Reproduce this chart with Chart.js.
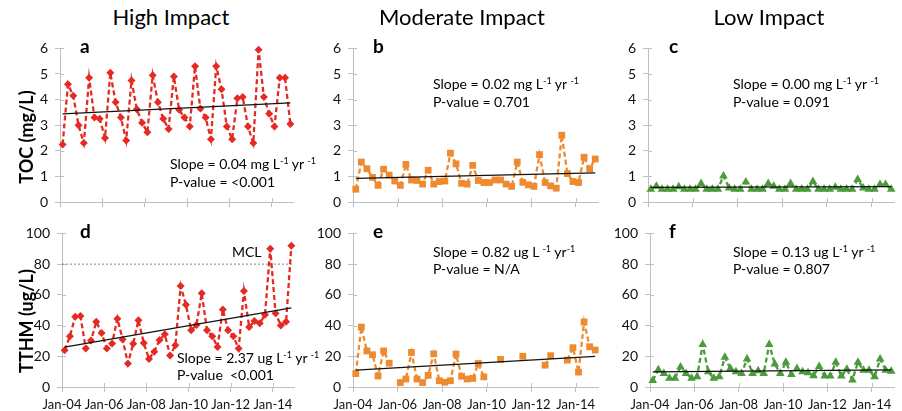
<!DOCTYPE html>
<html>
<head>
<meta charset="utf-8">
<script src="https://cdn.jsdelivr.net/npm/chart.js@4.4.1/dist/chart.umd.min.js"></script>
<style>
  body { margin: 0; background: #fff; width: 902px; height: 411px; overflow: hidden; position: relative; font-family: Lato, sans-serif; color: #000; }
  canvas { position: absolute; }
  .t { position: absolute; white-space: pre; }
  .title { font-size: 22px; line-height: 26px; transform: translateX(-50%); }
  .ytitle { font-size: 18px; font-weight: bold; transform: translate(-50%, -50%) rotate(-90deg); }
  .letter { font-size: 19px; line-height: 22px; font-weight: bold; }
  .stat { font-size: 14px; line-height: 17px; }
  sup { font-size: 9px; vertical-align: 5px; line-height: 0; }
</style>
</head>
<body>
<canvas id="pa"></canvas><canvas id="pb"></canvas><canvas id="pc"></canvas>
<canvas id="pd"></canvas><canvas id="pe"></canvas><canvas id="pf"></canvas>

<div class="t title" style="left:171px;top:4px">High Impact</div>
<div class="t title" style="left:462px;top:4px">Moderate Impact</div>
<div class="t title" style="left:769px;top:4px">Low Impact</div>

<div class="t ytitle" style="left:26px;top:137px">TOC (mg/L)</div>
<div class="t ytitle" style="left:26px;top:321px">TTHM (ug/L)</div>

<div class="t letter" style="left:80px;top:35px">a</div>
<div class="t letter" style="left:373px;top:35px">b</div>
<div class="t letter" style="left:669px;top:35px">c</div>
<div class="t letter" style="left:80px;top:220px">d</div>
<div class="t letter" style="left:373px;top:220px">e</div>
<div class="t letter" style="left:669px;top:220px">f</div>

<div class="t stat" style="left:170px;top:155px">Slope = 0.04 mg L<sup>-1</sup> yr <sup>-1</sup></div>
<div class="t stat" style="left:170px;top:173px">P-value = &lt;0.001</div>
<div class="t stat" style="left:433px;top:75px">Slope = 0.02 mg L<sup>-1</sup> yr <sup>-1</sup></div>
<div class="t stat" style="left:433px;top:93px">P-value = 0.701</div>
<div class="t stat" style="left:733px;top:75px">Slope = 0.00 mg L<sup>-1</sup> yr <sup>-1</sup></div>
<div class="t stat" style="left:733px;top:93px">P-value = 0.091</div>
<div class="t stat" style="left:177px;top:349px">Slope = 2.37 ug L<sup>-1</sup> yr <sup>-1</sup></div>
<div class="t stat" style="left:177px;top:366px">P-value  &lt;0.001</div>
<div class="t stat" style="left:433px;top:243px">Slope = 0.82 ug L <sup>-1</sup> yr<sup>-1</sup></div>
<div class="t stat" style="left:433px;top:260px">P-value = N/A</div>
<div class="t stat" style="left:733px;top:243px">Slope = 0.13 ug L<sup>-1</sup> yr <sup>-1</sup></div>
<div class="t stat" style="left:733px;top:260px">P-value = 0.807</div>
<div class="t stat" style="left:232px;top:243px">MCL</div>

<script>
// quarterly sampling dates
const sampleDates = [
  'Feb-04', 'May-04', 'Aug-04', 'Nov-04', 'Feb-05', 'May-05', 'Aug-05', 'Nov-05',
  'Feb-06', 'May-06', 'Aug-06', 'Nov-06', 'Feb-07', 'May-07', 'Aug-07', 'Nov-07',
  'Feb-08', 'May-08', 'Aug-08', 'Nov-08', 'Feb-09', 'May-09', 'Aug-09', 'Nov-09',
  'Feb-10', 'May-10', 'Aug-10', 'Nov-10', 'Feb-11', 'May-11', 'Aug-11', 'Nov-11',
  'Feb-12', 'May-12', 'Aug-12', 'Nov-12', 'Feb-13', 'May-13', 'Aug-13', 'Nov-13',
  'Feb-14', 'May-14', 'Aug-14', 'Nov-14'
];
const xTickYears = [0, 2, 4, 6, 8, 10];
const xTickLabels = ['Jan-04', 'Jan-06', 'Jan-08', 'Jan-10', 'Jan-12', 'Jan-14'];

// TOC (mg/L)
const tocHigh = [2.25, 4.6, 4.15, 3.0, 2.3, 4.85, 3.3, 3.25, 2.5, 5.05, 3.9, 3.3, 2.4, 4.75, 3.62, 3.1,
  2.72, 4.95, 3.9, 3.25, 2.85, 4.9, 3.6, 3.3, 2.95, 5.3, 3.65, 3.3, 2.45, 5.3, 4.4, 2.95,
  2.45, 4.05, 4.1, 2.95, 2.3, 5.95, 4.1, 3.45, 2.95, 4.85, 4.85, 3.05];
const tocModerate = [0.5, 1.56, 1.3, 0.96, 0.65, 1.28, 1.05, 0.82, 0.65, 1.47, 0.86, 0.84, 0.7, 1.24, 0.7, 0.8,
  0.82, 1.91, 1.49, 0.73, 0.7, 1.43, 0.84, 0.76, 0.76, 0.86, 0.86, 0.7, 0.61, 1.56, 0.77, 0.67,
  0.61, 1.85, 0.76, 0.63, 0.54, 2.61, 1.11, 0.8, 0.76, 1.75, 1.3, 1.68];
const tocLow = [0.5, 0.62, 0.5, 0.5, 0.5, 0.6, 0.5, 0.5, 0.5, 0.72, 0.5, 0.5, 0.5, 1.02, 0.55, 0.5,
  0.5, 0.78, 0.5, 0.5, 0.5, 0.72, 0.62, 0.5, 0.5, 0.72, 0.5, 0.5, 0.5, 0.8, 0.5, 0.5,
  0.5, 0.58, 0.5, 0.5, 0.5, 0.88, 0.55, 0.5, 0.5, 0.68, 0.68, 0.5];

// TTHM (ug/L)
const tthmHigh = [24, 33, 45.8, 46.3, 25, 30.2, 42.5, 35.2, 25, 28.3, 44.5, 31, 15.3, 28.2, 43.5, 28.7,
  18.2, 23, 30.6, 34.3, 20.5, 27.2, 65.8, 53.5, 37, 40.3, 61, 37, 33, 26, 50.5, 37,
  33, 25, 62.5, 39, 43, 41.5, 47, 90, 48, 40, 42.5, 92];
const tthmModerate = [8.7, 39, 23.5, 21, 7.2, 23.5, 15.5, null, 2.9, 5.2, 22.5, 5.2, 2.9, 7.6, 21.6, 4.1,
  3.1, 4.1, 21.4, 7, 5.2, 5.6, 15.3, 6.6, null, null, 18, null, null, null, 20, null,
  null, null, 14.2, 20.4, null, null, 17.5, 25.6, 9.7, 42.3, 26.2, 24.1];
const tthmLow = [4.2, 11.3, 8.8, 5.7, 5.7, 13, 8.8, 5.7, 6.7, 27.7, 9.9, 5.7, 6.7, 19.3, 12, 9.9,
  8.8, 18.2, 8.8, 10.5, 8.8, 27.7, 15, 8.8, 16.1, 8.2, 12, 9.9, 9.2, 7.3, 13.4, 7.1,
  7.1, 16.1, 7.1, 11.5, 4.6, 16.1, 10.9, 10.9, 6.7, 18.2, 10.9, 10.3];

// linear trend, value at first and last sample
const tocHighTrend = [3.44, 3.87];
const tocModerateTrend = [0.92, 1.14];
const tocLowTrend = [0.57, 0.6];
const tthmHighTrend = [26, 51.5];
const tthmModerateTrend = [11, 19.9];
const tthmLowTrend = [9.8, 11.2];
const mcl = 80;

const monthNames = ['Jan', 'Feb', 'Mar', 'Apr', 'May', 'Jun', 'Jul', 'Aug', 'Sep', 'Oct', 'Nov', 'Dec'];
// years since Jan-04, mid-month
const sampleX = sampleDates.map(d => {
  const [m, y] = d.split('-');
  return (+y - 4) + (monthNames.indexOf(m) + 0.5) / 12;
});

const axisColor = '#bfbfbf';
const red = '#e42a22', orange = '#ee8a2f', green = '#4b9a3c';

const crossTicks = {
  id: 'crossTicks',
  beforeDatasetsDraw(chart) {
    const {ctx, chartArea, scales} = chart;
    ctx.save();
    ctx.strokeStyle = axisColor;
    ctx.lineWidth = 1;
    ctx.beginPath();
    scales.x.ticks.forEach(t => {
      const px = Math.round(scales.x.getPixelForValue(t.value)) + 0.5;
      ctx.moveTo(px, chartArea.bottom);
      ctx.lineTo(px, chartArea.bottom - 4);
    });
    scales.y.ticks.forEach(t => {
      const py = Math.round(scales.y.getPixelForValue(t.value)) + 0.5;
      ctx.moveTo(chartArea.left, py);
      ctx.lineTo(chartArea.left + 4, py);
    });
    ctx.stroke();
    ctx.restore();
  }
};

function makePanel(id, box, values, trend, opts) {
  const canvas = document.getElementById(id);
  const w = box.R - box.L + 70, h = box.B - box.T + 35;
  canvas.width = w; canvas.height = h;
  canvas.style.left = (box.L - 45) + 'px';
  canvas.style.top = (box.T - 10) + 'px';
  canvas.style.width = w + 'px';
  canvas.style.height = h + 'px';

  const datasets = [{
    data: values.map((v, i) => ({x: sampleX[i], y: v})),
    borderColor: opts.color,
    backgroundColor: opts.color,
    borderWidth: 2.3,
    borderDash: [5, 3],
    pointStyle: opts.marker,
    pointRadius: opts.radius,
    pointBorderWidth: 0,
    spanGaps: false,
    clip: false,
    order: 2
  }, {
    data: [{x: sampleX[0], y: trend[0]}, {x: sampleX[sampleX.length - 1], y: trend[1]}],
    borderColor: '#111',
    borderWidth: 1.3,
    pointRadius: 0,
    order: 1
  }];
  if (opts.limit) {
    datasets.push({
      data: [{x: 0, y: opts.limit}, {x: 11, y: opts.limit}],
      borderColor: '#808080',
      borderWidth: 1,
      borderDash: [2, 2],
      pointRadius: 0,
      order: 3
    });
  }

  return new Chart(canvas.getContext('2d'), {
    type: 'line',
    data: {datasets},
    plugins: [crossTicks],
    options: {
      responsive: false,
      animation: false,
      layout: {padding: {top: 10, right: 25, left: 0, bottom: 0}},
      plugins: {legend: {display: false}, tooltip: {enabled: false}},
      scales: {
        x: {
          type: 'linear', min: 0, max: 11,
          afterBuildTicks: s => { s.ticks = xTickYears.map(v => ({value: v})); },
          afterFit: s => { s.height = 25; },
          ticks: {
            display: opts.xLabels,
            autoSkip: false, maxRotation: 0, padding: 5,
            color: '#111', font: {family: 'Lato', size: 13},
            callback: (v, i) => xTickLabels[i]
          },
          grid: {drawOnChartArea: false, drawTicks: true, tickLength: 5, color: axisColor},
          border: {color: axisColor, width: 1}
        },
        y: {
          min: 0, max: opts.yMax,
          afterFit: s => { s.width = 45; },
          ticks: {stepSize: opts.yStep, padding: 7, color: '#111', font: {family: 'Lato', size: 14}},
          grid: {drawOnChartArea: false, drawTicks: true, tickLength: 5, color: axisColor},
          border: {color: axisColor, width: 1}
        }
      }
    }
  });
}

const topRow = {yMax: 6, yStep: 1, xLabels: false};
const bottomRow = {yMax: 100, yStep: 20, xLabels: true};

makePanel('pa', {L: 60, R: 293, T: 43, B: 202}, tocHigh, tocHighTrend,
  Object.assign({color: red, marker: 'rectRot', radius: 4}, topRow));
makePanel('pb', {L: 353, R: 598, T: 43, B: 202}, tocModerate, tocModerateTrend,
  Object.assign({color: orange, marker: 'rect', radius: 4.8}, topRow));
makePanel('pc', {L: 648, R: 894, T: 43, B: 202}, tocLow, tocLowTrend,
  Object.assign({color: green, marker: 'triangle', radius: 5}, topRow));
makePanel('pd', {L: 62, R: 294, T: 228, B: 387}, tthmHigh, tthmHighTrend,
  Object.assign({color: red, marker: 'rectRot', radius: 4, limit: mcl}, bottomRow));
makePanel('pe', {L: 353, R: 598, T: 228, B: 387}, tthmModerate, tthmModerateTrend,
  Object.assign({color: orange, marker: 'rect', radius: 4.8}, bottomRow));
makePanel('pf', {L: 650, R: 894, T: 228, B: 387}, tthmLow, tthmLowTrend,
  Object.assign({color: green, marker: 'triangle', radius: 5}, bottomRow));
</script>
</body>
</html>
